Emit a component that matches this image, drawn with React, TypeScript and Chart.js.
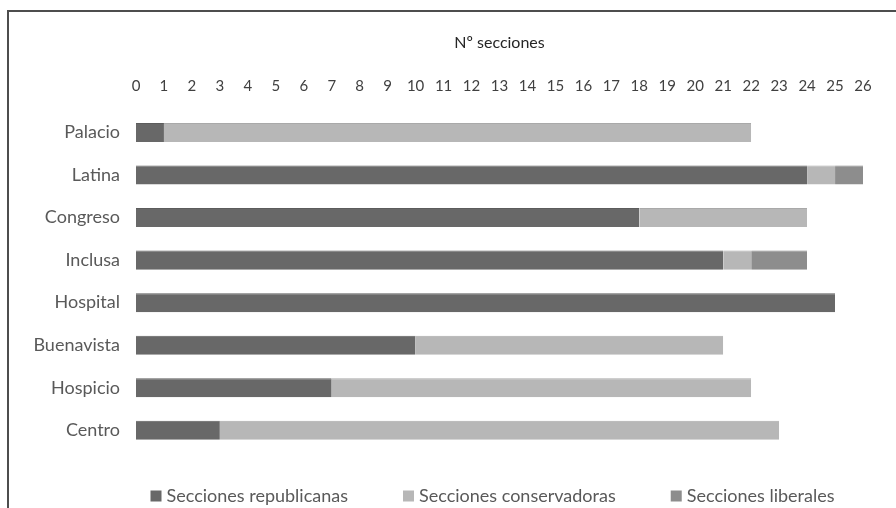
import { useEffect, useRef } from 'react';
import { Chart, registerables } from 'chart.js';

Chart.register(...registerables);

// Madrid districts and the number of electoral sections won by each tendency
const districts = ['Palacio', 'Latina', 'Congreso', 'Inclusa', 'Hospital', 'Buenavista', 'Hospicio', 'Centro'];
const republicanas = [1, 24, 18, 21, 25, 10, 7, 3];
const conservadoras = [21, 1, 6, 1, 0, 11, 15, 20];
const liberales = [0, 1, 0, 2, 0, 0, 0, 0];

const seriesNames = ['Secciones republicanas', 'Secciones conservadoras', 'Secciones liberales'];
const seriesColors = ['#686868', '#b7b7b7', '#8d8d8d'];
const seriesEdges = ['#5c5c5c', '#a9a9a9', '#808080'];

const axisTitle = 'Nº secciones';
const axisMin = 0;
const axisMax = 26;
const axisStep = 1;

const FONT = 'Lato';

// Legend drawn on the canvas with wide gaps between entries
const spacedLegend = {
  id: 'spacedLegend',
  afterDraw(chart: any) {
    const { ctx, chartArea } = chart;
    const box = 11;
    const gap = 5;
    const itemGap = 55;
    ctx.save();
    ctx.font = `18px ${FONT}`;
    const items = chart.data.datasets.map((ds: any) => ({
      text: ds.label as string,
      color: ds.backgroundColor as string,
      w: ctx.measureText(ds.label).width,
    }));
    const total =
      items.reduce((s: number, it: any) => s + box + gap + it.w, 0) + itemGap * (items.length - 1);
    let x = (chartArea.left + chartArea.right) / 2 - 7 - total / 2;
    const y = chart.height - 12;
    ctx.textBaseline = 'middle';
    ctx.textAlign = 'left';
    for (const it of items) {
      ctx.fillStyle = it.color;
      ctx.fillRect(x, y - box / 2, box, box);
      x += box + gap;
      ctx.fillStyle = '#595959';
      ctx.fillText(it.text, x, y);
      x += it.w + itemGap;
    }
    ctx.restore();
  },
};

export default function App() {
  const canvasRef = useRef<HTMLCanvasElement | null>(null);

  useEffect(() => {
    if (!canvasRef.current) return;
    const values = [republicanas, conservadoras, liberales];
    const chart = new Chart(canvasRef.current, {
      type: 'bar',
      data: {
        labels: districts,
        datasets: values.map((data, i) => ({
          label: seriesNames[i],
          data,
          backgroundColor: seriesColors[i],
          borderColor: seriesEdges[i],
          borderWidth: { top: 1, left: 0, right: 0, bottom: 0 },
          borderSkipped: false,
          barPercentage: 0.447,
          categoryPercentage: 1,
        })),
      },
      options: {
        indexAxis: 'y',
        animation: false,
        responsive: true,
        maintainAspectRatio: false,
        layout: { padding: { left: 0, right: 33, top: 20, bottom: 56.4 } },
        plugins: {
          legend: { display: false },
          tooltip: { enabled: false },
        },
        scales: {
          x: {
            position: 'top',
            stacked: true,
            min: axisMin,
            max: axisMax,
            grid: { display: false, drawTicks: false },
            border: { display: false },
            ticks: {
              stepSize: axisStep,
              autoSkip: false,
              maxRotation: 0,
              padding: 16,
              color: '#404040',
              font: { family: FONT, size: 15 },
            },
            title: {
              display: true,
              text: axisTitle,
              color: '#262626',
              font: { family: FONT, size: 16 },
              padding: { top: 13, bottom: 0 },
            },
            afterFit(scale: any) {
              scale.height = 91.2;
            },
          },
          y: {
            stacked: true,
            grid: { display: false, drawTicks: false },
            border: { display: false },
            ticks: {
              padding: 16,
              color: '#595959',
              font: { family: FONT, size: 18 },
            },
            afterFit(scale: any) {
              scale.width = 136;
            },
          },
        },
      },
      plugins: [spacedLegend],
    });
    return () => chart.destroy();
  }, []);

  return (
    <div
      style={{
        position: 'fixed',
        left: 0,
        top: 0,
        width: 896,
        height: 508,
        overflow: 'hidden',
        background: '#ffffff',
      }}
    >
      <canvas ref={canvasRef} />
      <div
        style={{
          position: 'absolute',
          left: 7,
          top: 10,
          right: -20,
          bottom: -20,
          borderLeft: '2px solid #4d4d4d',
          borderTop: '2px solid #4d4d4d',
          pointerEvents: 'none',
        }}
      />
    </div>
  );
}
